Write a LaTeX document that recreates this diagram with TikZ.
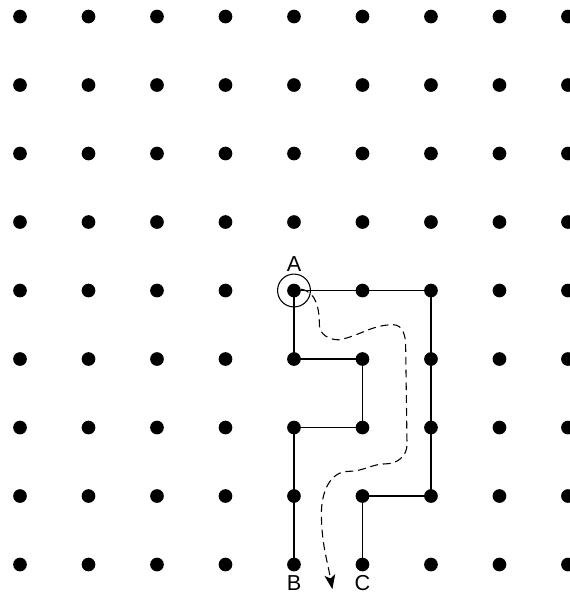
\documentclass[tikz,border=0pt]{standalone}
\usepackage{fontspec}
\setmainfont{Liberation Sans}
\usetikzlibrary{arrows.meta}

\begin{document}
\begin{tikzpicture}[
  dot/.style={circle,fill=black,inner sep=0pt,minimum size=0.2cm},
  wire/.style={line width=0.45pt},
  lbl/.style={font=\fontsize{9}{11}\selectfont,inner sep=0.5pt}]
\useasboundingbox (-0.292,-0.416) rectangle (8.029,8.241);
% Grid of dots
\foreach \x in {0,...,8}
  \foreach \y in {0,...,8}
    \node[dot] (p-\x-\y) at (\x,\y) {};
% Walls
\draw[wire] (p-4-4.center) -- (p-6-4.center) -- (p-6-1.center) -- (p-5-1.center) -- (p-5-0.center);
\draw[wire] (p-4-4.center) -- (p-4-3.center) -- (p-5-3.center) -- (p-5-2.center) -- (p-4-2.center) -- (p-4-0.center);
% Start marker
\node[draw,circle,wire,minimum size=0.48cm,inner sep=0pt] (ring) at (p-4-4) {};
% Labels
\node[lbl] (A) at (4,4.38) {A};
\node[lbl] (B) at (4,-0.27) {B};
\node[lbl] (C) at (5,-0.27) {C};
% Route
\coordinate (stop) at (4.56,-0.36);
\draw[wire,dash pattern=on 3.3pt off 2pt,-{Stealth[length=6pt,width=4.5pt,inset=1.5pt]}]
  (p-4-4.10) to[out=-10,in=90] (4.37,3.5) to[out=-90,in=180] (4.65,3.28)
  to[out=10,in=180] (5.45,3.5) to[out=0,in=90] (5.63,3.2) -- (5.65,1.75)
  to[out=-90,in=0] (5.35,1.47) to[out=180,in=0] (4.8,1.36)
  to[out=180,in=90] (4.4,0.75) to[out=-90,in=100] (stop);
\end{tikzpicture}
\end{document}
